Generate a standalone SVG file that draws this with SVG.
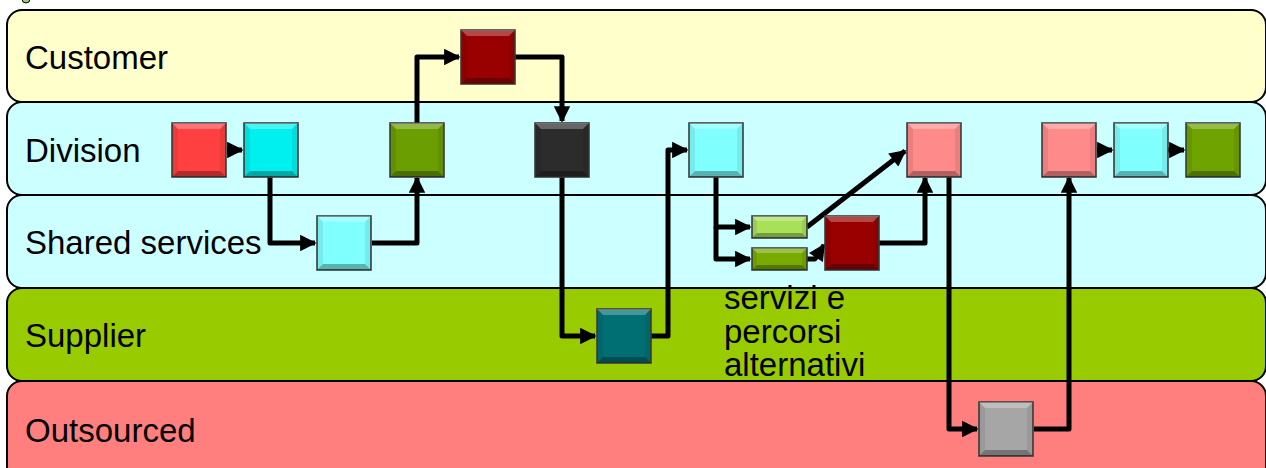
<svg xmlns="http://www.w3.org/2000/svg" xmlns:xlink="http://www.w3.org/1999/xlink" width="1266" height="468" viewBox="0 0 1266 468">
  <style>
    .lane { stroke: #000; stroke-width: 2; }
    .lbl { font-family: "Liberation Sans", Arial, sans-serif; font-size: 33px; fill: #000; }
    .box { stroke: #3c3c3c; stroke-width: 1.6; }
    .hi { fill: #fff; fill-opacity: 0.28; }
    .side { fill: #000; fill-opacity: 0.08; }
    .lo { fill: #000; fill-opacity: 0.3; }
    .wire { fill: none; stroke: #000; stroke-width: 5; stroke-linejoin: round; }
  </style>
  <defs>
    <marker id="ah" viewBox="0 0 10 10" refX="9" refY="5" markerWidth="3.5" markerHeight="3.3" orient="auto" markerUnits="strokeWidth">
      <path d="M0,0 L10,5 L0,10 Z" fill="#000"/>
    </marker>
    <!-- bevel overlay for the 54x54 blocks -->
    <g id="bev">
      <polygon class="hi" points="0,0 54,0 48,6 6,6"/>
      <polygon class="side" points="0,0 6,6 6,48 0,54"/>
      <polygon class="side" points="54,0 54,54 48,48 48,6"/>
      <polygon class="lo" points="0,54 6,48 48,48 54,54"/>
    </g>
    <g id="bevbar">
      <polygon class="hi" points="0,0 55,0 50,5 5,5"/>
      <polygon class="side" points="0,0 5,5 5,17 0,22"/>
      <polygon class="side" points="55,0 55,22 50,17 50,5"/>
      <polygon class="lo" points="0,22 5,17 50,17 55,22"/>
    </g>
  </defs>

  <rect width="1266" height="468" fill="#fff"/>
  <circle cx="26" cy="-1" r="4" fill="#9c6" stroke="#000" stroke-width="1"/>

  <!-- swimlanes -->
  <g id="lanes">
    <rect class="lane" x="7" y="10" width="1259" height="92" rx="15" fill="#ffffcc"/>
    <rect class="lane" x="7" y="102" width="1259" height="93" rx="15" fill="#ccffff"/>
    <rect class="lane" x="7" y="195" width="1259" height="93" rx="15" fill="#ccffff"/>
    <rect class="lane" x="7" y="288" width="1259" height="93" rx="15" fill="#99cc00"/>
    <rect class="lane" x="7" y="381" width="1259" height="100" rx="15" fill="#ff7f7f"/>
    <text class="lbl" x="25" y="69">Customer</text>
    <text class="lbl" x="25" y="162">Division</text>
    <text class="lbl" x="25" y="254">Shared services</text>
    <text class="lbl" x="25" y="347">Supplier</text>
    <text class="lbl" x="25" y="442">Outsourced</text>
  </g>

  <!-- connectors -->
  <g id="connectors">
    <path class="wire" d="M227,150 H242" marker-end="url(#ah)"/>
    <path class="wire" d="M270,176 V243 H315" marker-end="url(#ah)"/>
    <path class="wire" d="M372,243 H417 V178" marker-end="url(#ah)"/>
    <path class="wire" d="M417,123 V57 H459" marker-end="url(#ah)"/>
    <path class="wire" d="M515,57 H562 V121" marker-end="url(#ah)"/>
    <path class="wire" d="M562,176 V336 H595" marker-end="url(#ah)"/>
    <path class="wire" d="M651,336 H668 V150 H687" marker-end="url(#ah)"/>
    <path class="wire" d="M716,176 V227 H750" marker-end="url(#ah)"/>
    <path class="wire" d="M716,227 V259 H750" marker-end="url(#ah)"/>
    <path class="wire" d="M807,227 L905,151" marker-end="url(#ah)"/>
    <path class="wire" d="M807,259 H815 L824,245" marker-end="url(#ah)"/>
    <path class="wire" d="M879,243 H925 V178" marker-end="url(#ah)"/>
    <path class="wire" d="M949,176 V429 H977" marker-end="url(#ah)"/>
    <path class="wire" d="M1034,429 H1069 V178" marker-end="url(#ah)"/>
    <path class="wire" d="M1097,150 H1112" marker-end="url(#ah)"/>
    <path class="wire" d="M1168,150 H1184" marker-end="url(#ah)"/>
  </g>

  <!-- process blocks -->
  <g id="n-customer">
    <rect class="box" x="461" y="30" width="54" height="54" fill="#990000"/>
    <use xlink:href="#bev" x="461" y="30"/>
  </g>
  <g id="n-div-red">
    <rect class="box" x="172" y="123" width="54" height="54" fill="#ff4040"/>
    <use xlink:href="#bev" x="172" y="123"/>
  </g>
  <g id="n-div-cyan">
    <rect class="box" x="244" y="123" width="54" height="54" fill="#00f0f0"/>
    <use xlink:href="#bev" x="244" y="123"/>
  </g>
  <g id="n-div-green">
    <rect class="box" x="390" y="123" width="54" height="54" fill="#6b9e00"/>
    <use xlink:href="#bev" x="390" y="123"/>
  </g>
  <g id="n-div-black">
    <rect class="box" x="535" y="123" width="54" height="54" fill="#2c2c2c"/>
    <use xlink:href="#bev" x="535" y="123"/>
  </g>
  <g id="n-div-lightcyan">
    <rect class="box" x="689" y="123" width="54" height="54" fill="#80ffff"/>
    <use xlink:href="#bev" x="689" y="123"/>
  </g>
  <g id="n-div-pink1">
    <rect class="box" x="907" y="123" width="54" height="54" fill="#ff8a8a"/>
    <use xlink:href="#bev" x="907" y="123"/>
  </g>
  <g id="n-div-pink2">
    <rect class="box" x="1042" y="123" width="54" height="54" fill="#ff8a8a"/>
    <use xlink:href="#bev" x="1042" y="123"/>
  </g>
  <g id="n-div-cyan2">
    <rect class="box" x="1114" y="123" width="54" height="54" fill="#80ffff"/>
    <use xlink:href="#bev" x="1114" y="123"/>
  </g>
  <g id="n-div-green2">
    <rect class="box" x="1186" y="123" width="54" height="54" fill="#6ea300"/>
    <use xlink:href="#bev" x="1186" y="123"/>
  </g>
  <g id="n-shared-cyan">
    <rect class="box" x="317" y="216" width="54" height="54" fill="#80ffff"/>
    <use xlink:href="#bev" x="317" y="216"/>
  </g>
  <g id="n-shared-bar1">
    <rect class="box" x="752" y="216" width="55" height="22" fill="#a8e05a"/>
    <use xlink:href="#bevbar" x="752" y="216"/>
  </g>
  <g id="n-shared-bar2">
    <rect class="box" x="752" y="248" width="55" height="22" fill="#78aa00"/>
    <use xlink:href="#bevbar" x="752" y="248"/>
  </g>
  <g id="n-shared-darkred">
    <rect class="box" x="825" y="216" width="54" height="54" fill="#990000"/>
    <use xlink:href="#bev" x="825" y="216"/>
  </g>
  <g id="n-supplier">
    <rect class="box" x="597" y="309" width="54" height="54" fill="#006f73"/>
    <use xlink:href="#bev" x="597" y="309"/>
  </g>
  <g id="n-outsourced">
    <rect class="box" x="979" y="402" width="54" height="54" fill="#a6a6a6"/>
    <use xlink:href="#bev" x="979" y="402"/>
  </g>

  <!-- note beside the alternative paths -->
  <text class="lbl" x="724" y="309">servizi e<tspan x="724" dy="33.5">percorsi</tspan><tspan x="724" dy="33.5">alternativi</tspan></text>
</svg>
